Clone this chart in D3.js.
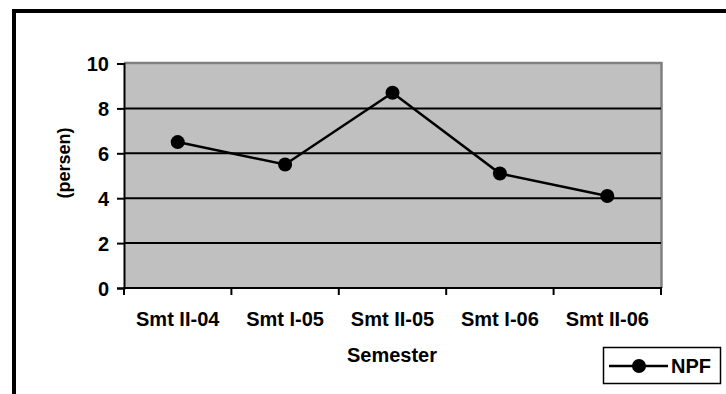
<!DOCTYPE html>
<html>
<head>
<meta charset="utf-8">
<script src="https://cdn.jsdelivr.net/npm/d3@7"></script>
<style>
  html, body { margin: 0; padding: 0; background: #fff; }
  svg { display: block; }
  text { font-family: "Liberation Sans", Arial, sans-serif; font-weight: bold; fill: #000; }
</style>
</head>
<body>
<script>
const categories = ["Smt II-04", "Smt I-05", "Smt II-05", "Smt I-06", "Smt II-06"];
const npfValues = [6.5, 5.5, 8.7, 5.1, 4.1];
const yTicks = [0, 2, 4, 6, 8, 10];
const seriesName = "NPF";
const xTitle = "Semester";
const yTitle = "(persen)";

const W = 726, H = 394;
const svg = d3.select("body").append("svg").attr("width", W).attr("height", H);

// outer frame (top and left edges visible)
svg.append("rect").attr("x", 12).attr("y", 9).attr("width", W - 12).attr("height", 4).attr("fill", "#000");
svg.append("rect").attr("x", 12).attr("y", 9).attr("width", 4).attr("height", H - 9).attr("fill", "#000");

const plot = { left: 124, right: 661, top: 63.5, bottom: 288 };

const x = d3.scaleBand().domain(categories).range([plot.left, plot.right]).padding(0);
const y = d3.scaleLinear().domain([0, 10]).range([plot.bottom, plot.top]);

// plot area background
svg.append("rect")
  .attr("x", plot.left).attr("y", plot.top)
  .attr("width", plot.right - plot.left).attr("height", plot.bottom - plot.top)
  .attr("fill", "#c0c0c0");
// gray top & right border
svg.append("line").attr("x1", plot.left).attr("x2", plot.right + 1).attr("y1", plot.top - 0.5).attr("y2", plot.top - 0.5)
  .attr("stroke", "#808080").attr("stroke-width", 2.5);
svg.append("line").attr("x1", plot.right + 0.5).attr("x2", plot.right + 0.5).attr("y1", plot.top - 1.5).attr("y2", plot.bottom)
  .attr("stroke", "#808080").attr("stroke-width", 2.5);

// gridlines
svg.append("g").selectAll("line")
  .data(yTicks.filter(d => d > 0 && d < 10))
  .join("line")
  .attr("x1", plot.left).attr("x2", plot.right)
  .attr("y1", d => y(d)).attr("y2", d => y(d))
  .attr("stroke", "#000").attr("stroke-width", 2);

// y axis
const yAxis = svg.append("g").attr("transform", `translate(${plot.left},0)`)
  .call(d3.axisLeft(y).tickValues(yTicks).tickSize(7).tickPadding(8).tickFormat(d3.format("d")));
yAxis.select(".domain").attr("stroke", "#000").attr("stroke-width", 2);
yAxis.selectAll(".tick line").attr("stroke", "#000").attr("stroke-width", 2);
yAxis.selectAll(".tick text").style("font-size", "20px").attr("dy", "0.36em")
  .style("font-family", "'Liberation Sans', Arial, sans-serif").style("font-weight", "bold").attr("fill", "#000");

// x axis
const xAxis = svg.append("g").attr("transform", `translate(0,${plot.bottom})`)
  .call(d3.axisBottom(x).tickSize(0).tickPadding(0));
xAxis.select(".domain").remove();
xAxis.selectAll(".tick text").style("font-size", "20px").attr("y", 24).attr("dy", "0.71em")
  .style("font-family", "'Liberation Sans', Arial, sans-serif").style("font-weight", "bold").attr("fill", "#000");
svg.append("line").attr("x1", plot.left - 1).attr("x2", plot.right + 1)
  .attr("y1", plot.bottom).attr("y2", plot.bottom).attr("stroke", "#000").attr("stroke-width", 2);
// tick marks at band boundaries
const boundaries = categories.map(c => x(c)).concat([x(categories[categories.length - 1]) + x.step()]);
svg.append("g").selectAll("line").data(boundaries).join("line")
  .attr("x1", d => d).attr("x2", d => d)
  .attr("y1", plot.bottom).attr("y2", plot.bottom + 7)
  .attr("stroke", "#000").attr("stroke-width", 2);

// axis titles
svg.append("text").attr("x", 392).attr("y", 362).attr("text-anchor", "middle")
  .style("font-size", "20px").text(xTitle);
svg.append("text").attr("transform", `translate(70,163) rotate(-90)`).attr("text-anchor", "middle")
  .style("font-size", "18px").text(yTitle);

// series line
const line = d3.line().x((d, i) => x(categories[i]) + x.bandwidth() / 2).y(d => y(d));
svg.append("path").datum(npfValues).attr("d", line)
  .attr("fill", "none").attr("stroke", "#000").attr("stroke-width", 2.5);
svg.append("g").selectAll("circle").data(npfValues).join("circle")
  .attr("cx", (d, i) => x(categories[i]) + x.bandwidth() / 2)
  .attr("cy", d => y(d)).attr("r", 7).attr("fill", "#000");

// legend
const lg = svg.append("g");
lg.append("rect").attr("x", 603.5).attr("y", 347.5).attr("width", 117).attr("height", 36)
  .attr("fill", "#fff").attr("stroke", "#000").attr("stroke-width", 1.5);
lg.append("line").attr("x1", 609).attr("x2", 668).attr("y1", 366).attr("y2", 366)
  .attr("stroke", "#000").attr("stroke-width", 2.5);
lg.append("circle").attr("cx", 639).attr("cy", 366).attr("r", 7).attr("fill", "#000");
lg.append("text").attr("x", 671).attr("y", 373).style("font-size", "20px").text(seriesName);
</script>
</body>
</html>
